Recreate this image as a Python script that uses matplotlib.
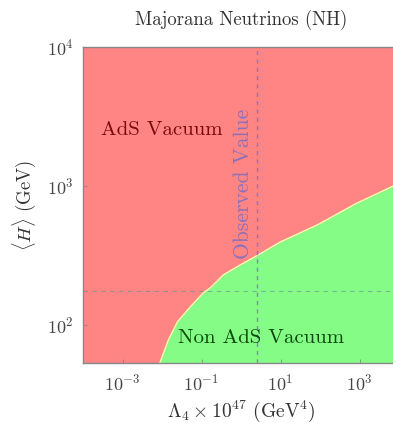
import numpy as np
import matplotlib.pyplot as plt

plt.rcParams.update({
    'font.family': 'serif',
    'font.serif': ['cmr10'],
    'mathtext.fontset': 'cm',
    'axes.unicode_minus': False,
    'axes.formatter.use_mathtext': True,
})

# boundary between AdS and non-AdS vacua
lam = [0.0088, 0.0146, 0.0247, 0.0527, 0.112, 0.169, 0.36, 0.97, 2.77, 10, 86, 790, 7260, 10000]
H = [53, 78, 105, 135, 170, 185, 229, 270, 319, 395, 524, 742, 1000, 1060]

lam_obs = 2.6    # observed cosmological constant (x 1e-47 GeV^4)
H_ew = 174       # electroweak vev / sqrt(2)

xmin, xmax = 1e-4, 1e4
ymin, ymax = 53, 1e4

fig = plt.figure(figsize=(3.93, 4.23), dpi=100)
ax = fig.add_axes([83/393, 60/423, 316/393, 316/423])

ax.set_xscale('log')
ax.set_yscale('log')
ax.set_facecolor('#ff8585')
ax.fill_between(lam, ymin, H, color='#85fc85', lw=0)
ax.plot(lam, H, color='#fffcb0', lw=1.0)

ax.axvline(lam_obs, color='#5a6ad8', lw=1.0, ls=(0, (3, 3)), alpha=0.7)
ax.axhline(H_ew, color='#6a8a9a', lw=0.8, ls=(0, (4, 4)), alpha=0.6)

ax.text(0.00028, 2520, 'AdS Vacuum', color='#7a0a0a', fontsize=15, ha='left', va='center')
ax.text(0.026, 80, 'Non AdS Vacuum', color='#0a4a0a', fontsize=15, ha='left', va='center')
ax.text(1.16, 1030, 'Observed Value', color='#6868c8', fontsize=15.5, rotation=90,
        ha='center', va='center', alpha=0.75)

ax.set_xlim(xmin, xmax)
ax.set_ylim(ymin, ymax)
ax.set_xticks([1e-3, 1e-1, 1e1, 1e3])
ax.set_yticks([1e2, 1e3, 1e4])
ax.minorticks_off()
ax.tick_params(colors='#888888', labelcolor='#444444', labelsize=13,
               direction='in', length=3, width=0.6, pad=7)
for s in ax.spines.values():
    s.set_color('#888888')
    s.set_linewidth(1.0)

ax.set_title('Majorana Neutrinos (NH)', fontsize=13.5, color='#333333', pad=16)
ax.set_xlabel(r'$\Lambda_4\times10^{47}$ (GeV$^4$)', fontsize=14, color='#333333', labelpad=4)
ax.set_ylabel(r'$\langle H\rangle$ (GeV)', fontsize=13.5, color='#333333', labelpad=6)

fig.savefig('out.png', dpi=100)
